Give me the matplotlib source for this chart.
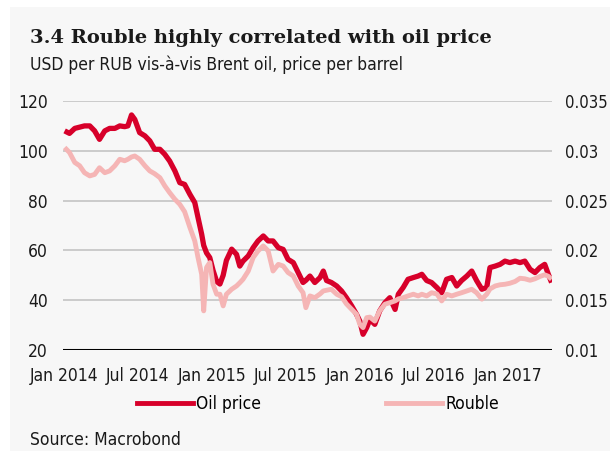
import matplotlib
matplotlib.use('Agg')
import matplotlib.pyplot as plt
from matplotlib.lines import Line2D
from matplotlib.patches import Rectangle
import pandas as pd

# data (roughly every 12 days)
dates = ["2014-01-03", "2014-01-15", "2014-01-28", "2014-02-09", "2014-02-21", "2014-03-06",
         "2014-03-18", "2014-03-30", "2014-04-12", "2014-04-24", "2014-05-07", "2014-05-19",
         "2014-05-31", "2014-06-08", "2014-06-17", "2014-06-25", "2014-07-07", "2014-07-20",
         "2014-08-01", "2014-08-13", "2014-08-26", "2014-09-07", "2014-09-19", "2014-10-02",
         "2014-10-14", "2014-10-26", "2014-11-08", "2014-11-20", "2014-11-28", "2014-12-07",
         "2014-12-12", "2014-12-19", "2014-12-27", "2015-01-04", "2015-01-13", "2015-01-21",
         "2015-01-29", "2015-02-06", "2015-02-19", "2015-03-03", "2015-03-11", "2015-03-19",
         "2015-04-01", "2015-04-13", "2015-04-25", "2015-05-08", "2015-05-20", "2015-06-01",
         "2015-06-14", "2015-06-26", "2015-07-08", "2015-07-21", "2015-08-02", "2015-08-14",
         "2015-08-21", "2015-08-31", "2015-09-12", "2015-09-25", "2015-10-03", "2015-10-11",
         "2015-10-23", "2015-11-05", "2015-11-17", "2015-11-29", "2015-12-12", "2015-12-24",
         "2016-01-01", "2016-01-09", "2016-01-18", "2016-01-26", "2016-02-07", "2016-02-19",
         "2016-03-03", "2016-03-15", "2016-03-28", "2016-04-05", "2016-04-17", "2016-04-29",
         "2016-05-12", "2016-05-24", "2016-06-02", "2016-06-14", "2016-06-26", "2016-07-09",
         "2016-07-21", "2016-08-02", "2016-08-15", "2016-08-27", "2016-09-08", "2016-09-21",
         "2016-10-03", "2016-10-15", "2016-10-28", "2016-11-09", "2016-11-17", "2016-11-30",
         "2016-12-12", "2016-12-24", "2017-01-05", "2017-01-18", "2017-01-30", "2017-02-11",
         "2017-02-24", "2017-03-08", "2017-03-20", "2017-04-01", "2017-04-10", "2017-04-18"]

oil_price = [108, 107, 109, 109.5, 110, 110, 108, 104.6, 108, 109, 109, 110,
             109.7, 110, 114.4, 112.6, 107.3, 106, 104, 100.6, 100.6, 98.6, 95.9, 91.9,
             87.2, 86.5, 82.5, 79.2, 73.2, 66.5, 62, 59, 57.1, 52, 47.5, 46.5,
             50, 56, 60.5, 58.4, 53.7, 55.7, 57.8, 61.1, 63.8, 65.8, 63.8, 63.8,
             61.1, 60.4, 56.4, 55.1, 51.1, 47.1, 48, 49.7, 47.1, 49.1, 51.7, 47.9,
             47.1, 45.7, 43.7, 41.0, 37.7, 34.3, 31.6, 26.3, 29, 32.3, 30.3, 35.7,
             39.0, 41.0, 36.3, 42.4, 45.1, 48.4, 49.1, 49.7, 50.4, 47.9, 47.1, 45.1,
             43.0, 48.4, 49.1, 45.7, 47.9, 49.7, 51.7, 47.9, 44.4, 45.1, 53.1, 53.7,
             54.4, 55.7, 55.1, 55.7, 55.1, 55.7, 52.4, 51.1, 53.1, 54.4, 50.4, 47.1]

rouble_usd = [0.03033, 0.02983, 0.02883, 0.0285, 0.0278, 0.02748, 0.02763, 0.0283, 0.0278, 0.02798,
              0.0285, 0.02915, 0.029, 0.02915, 0.02938, 0.02948, 0.02915, 0.0285, 0.02798, 0.0277,
              0.0273, 0.02648, 0.0258, 0.02513, 0.02463, 0.02388, 0.0223, 0.02095, 0.01928, 0.0176,
              0.01393, 0.01828, 0.01878, 0.0166, 0.0156, 0.0156, 0.01443, 0.0156, 0.0161, 0.01643,
              0.01675, 0.0171, 0.01793, 0.01928, 0.01995, 0.02045, 0.01995, 0.01793, 0.0186, 0.01843,
              0.01778, 0.01743, 0.01643, 0.01575, 0.01425, 0.01543, 0.01525, 0.01563, 0.01593, 0.016,
              0.0161, 0.0156, 0.01535, 0.01463, 0.01408, 0.01358, 0.01258, 0.01225, 0.01325, 0.0133,
              0.0129, 0.01393, 0.0146, 0.01475, 0.01493, 0.01513, 0.01525, 0.01543, 0.0156, 0.01543,
              0.0156, 0.01543, 0.01575, 0.01563, 0.01493, 0.0156, 0.01543, 0.0156, 0.01575, 0.01593,
              0.0161, 0.01575, 0.0151, 0.0156, 0.01613, 0.01643, 0.01655, 0.0166, 0.0167, 0.01688,
              0.0172, 0.01715, 0.017, 0.01715, 0.01738, 0.01755, 0.0174, 0.0171]

tick_dates = ["2014-01-01", "2014-07-01", "2015-01-01", "2015-07-01",
              "2016-01-01", "2016-07-01", "2017-01-01"]
tick_labels = ["Jan 2014", "Jul 2014", "Jan 2015", "Jul 2015",
               "Jan 2016", "Jul 2016", "Jan 2017"]

OIL_COL = '#d7002a'
RUB_COL = '#f5b5b5'
TXT = '#1a1a1a'
sans = ['DejaVu Sans', 'Liberation Sans']
STRETCH = 'condensed'
FS = 12.5

x = pd.to_datetime(dates)

fig = plt.figure(figsize=(6.1, 4.51), dpi=100)
fig.patch.set_facecolor('white')
fig.patches.append(Rectangle((10/610, 0), 1, 1 - 7/451, transform=fig.transFigure,
                             facecolor='#f7f7f7', edgecolor='none', zorder=-10))

ax = fig.add_axes([63/610, 101/451, 489/610, 249/451])
ax.set_facecolor('none')
ax2 = ax.twinx()

ax.plot(x, oil_price, color=OIL_COL, lw=3.8, solid_capstyle='butt', solid_joinstyle='round')
ax2.plot(x, rouble_usd, color=RUB_COL, lw=3.5, solid_capstyle='butt', solid_joinstyle='round')

ax.set_ylim(20, 120)
ax.set_yticks([20, 40, 60, 80, 100, 120])
ax2.set_ylim(0.01, 0.035)
ax2.set_yticks([0.01, 0.015, 0.02, 0.025, 0.03, 0.035])
ax2.set_yticklabels(['0.01', '0.015', '0.02', '0.025', '0.03', '0.035'])
ax.set_xlim(x[0] - pd.Timedelta(days=4), x[-1] + pd.Timedelta(days=1))
ax.set_xticks(pd.to_datetime(tick_dates))
ax.set_xticklabels(tick_labels)

ax.grid(axis='y', color='#c8c8c8', lw=1.3)
ax.set_axisbelow(True)
for a in (ax, ax2):
    for s in ['top', 'left', 'right', 'bottom']:
        a.spines[s].set_visible(False)
ax.axhline(20, color='black', lw=2.2, zorder=1)

ax.tick_params(axis='x', length=0, pad=12, labelsize=FS)
ax.tick_params(axis='y', length=0, pad=11, labelsize=FS)
ax2.tick_params(axis='y', length=0, pad=9, labelsize=12)
for lab in ax.get_xticklabels() + ax.get_yticklabels() + ax2.get_yticklabels():
    lab.set_family(sans)
    lab.set_stretch(STRETCH)
    lab.set_color(TXT)

fig.text(30/610, 1 - 38/451, '3.4 Rouble highly correlated with oil price',
         family=['DejaVu Serif'], fontweight='bold', fontsize=14,
         va='center', ha='left', color=TXT)
fig.text(30/610, 1 - 65/451, 'USD per RUB vis-à-vis Brent oil, price per barrel',
         family=sans, stretch=STRETCH, fontsize=FS, va='center', ha='left', color=TXT)
fig.text(30/610, 1 - 440/451, 'Source: Macrobond',
         family=sans, stretch=STRETCH, fontsize=FS, va='center', ha='left', color=TXT)

handles = [Line2D([], [], color=OIL_COL, lw=3.5), Line2D([], [], color=RUB_COL, lw=3.5)]
fig.legend(handles, ['Oil price', 'Rouble'], loc='center left',
           bbox_to_anchor=(137/610, 1 - 404/451), ncol=2, frameon=False,
           borderpad=0, borderaxespad=0, handlelength=3.2, handletextpad=0.2,
           columnspacing=7.2, prop={'family': sans, 'size': FS, 'stretch': STRETCH})

fig.savefig('out.png', dpi=100)
